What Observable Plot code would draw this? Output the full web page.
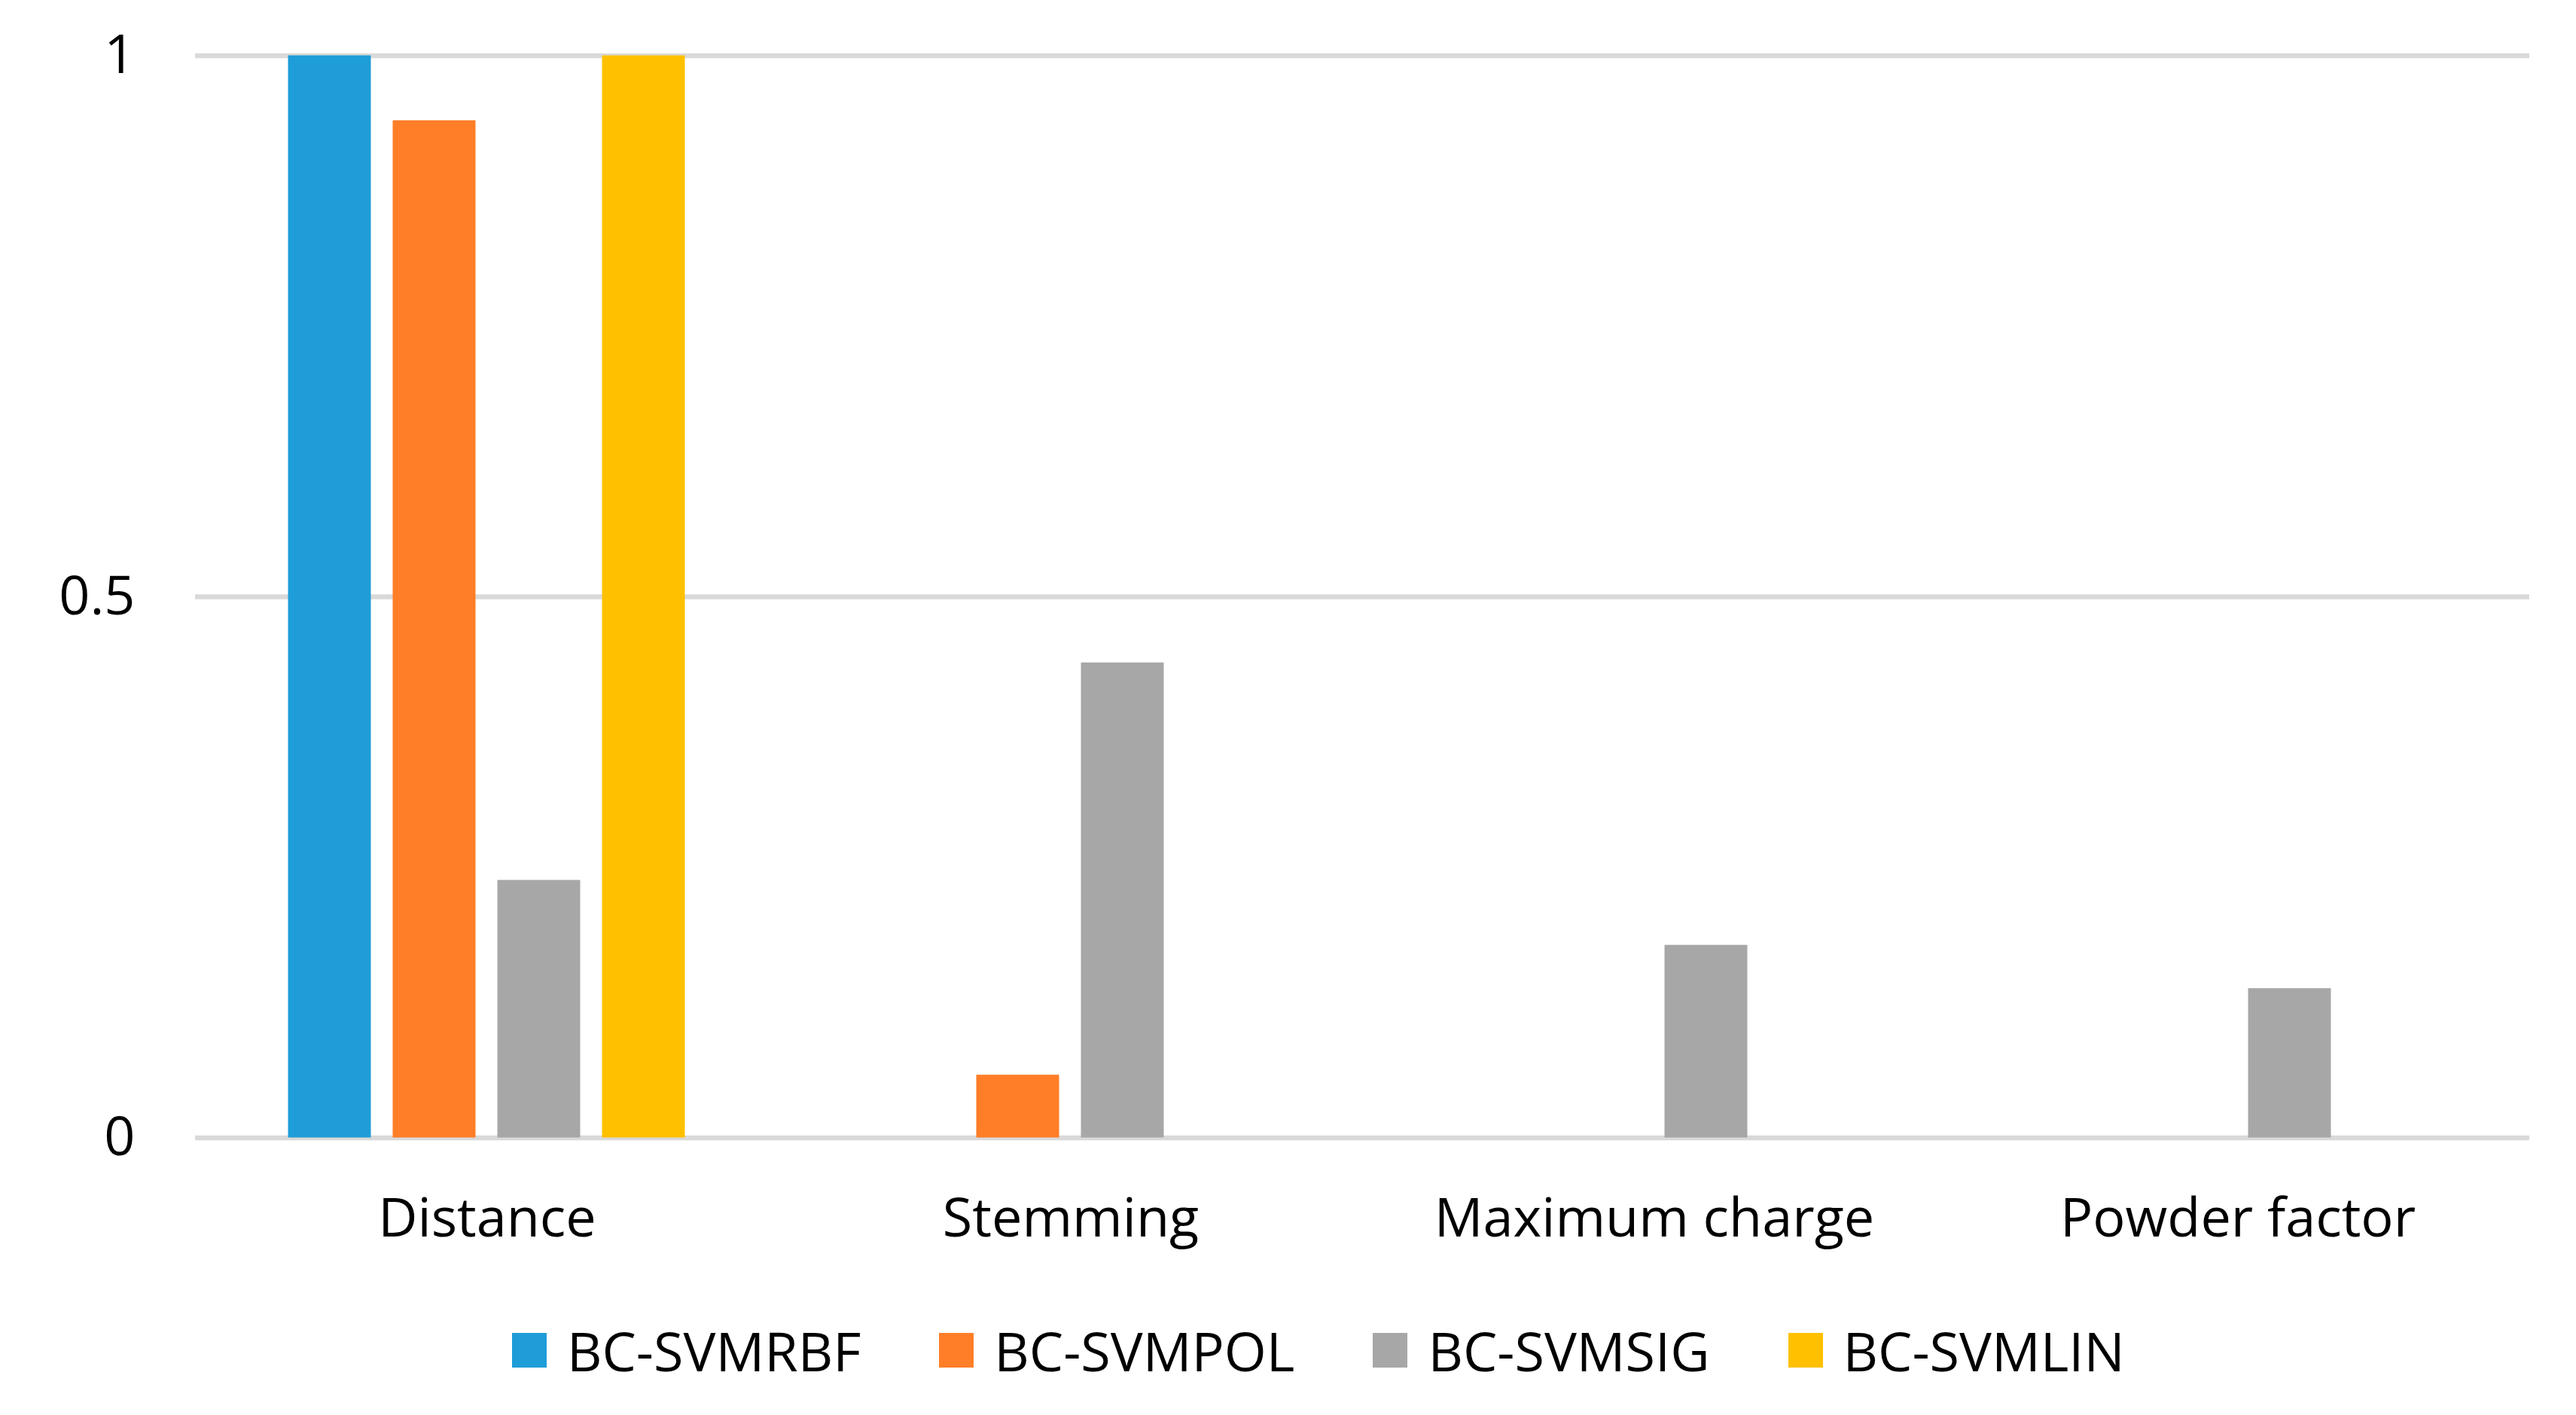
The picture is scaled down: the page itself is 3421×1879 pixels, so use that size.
<!DOCTYPE html>
<html>
<head>
<meta charset="utf-8">
<script src="https://cdn.jsdelivr.net/npm/d3@7"></script>
<script src="https://cdn.jsdelivr.net/npm/@observablehq/plot@0.6"></script>
<style>
  html, body { margin: 0; padding: 0; background: white; }
  #wrap { position: relative; width: 3421px; height: 1879px; font-family: "Open Sans", sans-serif; }
  #legend { position: absolute; left: 680px; top: 1743px; height: 100px; display: flex; align-items: center; font-size: 72px; color: #000; white-space: nowrap; }
  .item { display: flex; align-items: center; margin-right: 104px; }
  .sw { width: 46px; height: 46px; margin-right: 27px; }
</style>
</head>
<body>
<div id="wrap"><div id="chart"></div><div id="legend"></div></div>
<script>
const categories = ["Distance", "Stemming", "Maximum charge", "Powder factor"];
const series = ["BC-SVMRBF", "BC-SVMPOL", "BC-SVMSIG", "BC-SVMLIN"];
const rbf = [1, 0, 0, 0];
const pol = [0.94, 0.058, 0, 0];
const sig = [0.238, 0.439, 0.178, 0.138];
const lin = [1, 0, 0, 0];
const colors = ["#1E9DD8", "#FF7E27", "#A7A7A7", "#FFC000"];
const yTicks = [0, 0.5, 1];

const seriesValues = [rbf, pol, sig, lin];
const data = [];
categories.forEach((c, i) => {
  series.forEach((s, j) => {
    const v = seriesValues[j][i];
    if (v > 0) data.push({category: c, series: s, value: v});
  });
});

const chart = Plot.plot({
  width: 3421,
  height: 1700,
  marginLeft: 257.5,
  marginRight: 61,
  marginTop: 73.5,
  marginBottom: 189.5,
  style: {fontFamily: "Open Sans", fontSize: "72px", color: "#000", background: "white"},
  fx: {domain: categories, padding: 0, label: null},
  x: {domain: series, paddingInner: 0.207, paddingOuter: 0.875, axis: null},
  y: {domain: [0, 1], ticks: yTicks, label: null},
  color: {domain: series, range: colors},
  marks: [
    Plot.ruleY(yTicks, {stroke: "#d9d9d9", strokeWidth: 6.5, strokeOpacity: 1}),
    Plot.barY(data, {fx: "category", x: "series", y: "value", fill: "series"}),
    Plot.axisY({ticks: yTicks, tickSize: 0, tickPadding: 80, tickFormat: d => String(d), label: null, fontSize: 72}),
    Plot.axisFx({anchor: "bottom", tickSize: 0, tickPadding: 80, label: null, fontSize: 72})
  ]
});
document.getElementById("chart").appendChild(chart);

const legend = document.getElementById("legend");
series.forEach((s, i) => {
  const item = document.createElement("div");
  item.className = "item";
  const sw = document.createElement("div");
  sw.className = "sw";
  sw.style.background = colors[i];
  const t = document.createElement("span");
  t.textContent = s;
  item.appendChild(sw);
  item.appendChild(t);
  legend.appendChild(item);
});
</script>
</body>
</html>
